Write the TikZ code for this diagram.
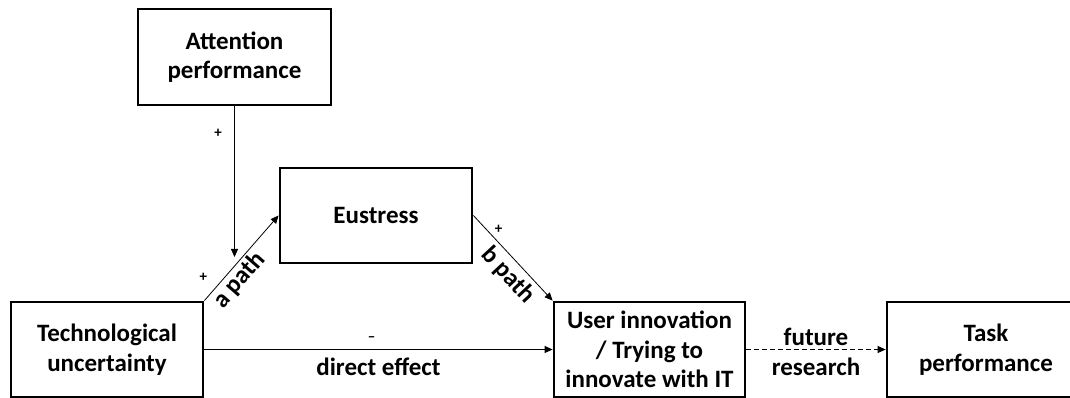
\documentclass[tikz,border=0pt]{standalone}
\usepackage{fontspec}
\setmainfont{Carlito}
\usetikzlibrary{arrows.meta}
\begin{document}
\begin{tikzpicture}[x=1pt,y=1pt,
  box/.style={draw, line width=2.8pt, rectangle, align=center, inner sep=0pt,
    minimum height=95pt, font=\fontsize{25}{29.5}\selectfont\bfseries},
  link/.style={line width=0.8pt, -{Triangle[length=8pt,width=7pt]}},
  lab/.style={font=\fontsize{25}{30}\selectfont\bfseries, inner sep=0pt, align=center},
  sign/.style={font=\fontsize{15}{16}\selectfont\bfseries, inner sep=0pt}]
\useasboundingbox (0,0) rectangle (1070,398);
\clip (0,0) rectangle (1070,398);
\node[box, minimum width=193pt, minimum height=96pt] (att) at (234.5,341) {Attention\\performance};
\node[box, minimum width=192pt] (eus) at (376,182.5) {Eustress};
\node[box, minimum width=192pt] (tech) at (107,48.5) {Technological\\uncertainty};
\node[box, minimum width=191pt] (user) at (649.5,48.5) {User innovation\\/ Trying to\\innovate with IT};
\node[box, minimum width=198pt] (task) at (986,48.5) {Task\\performance};
\coordinate (mod) at (234.5,141);
\draw[link] (att.south) -- node[pos=0.18, xshift=-16.5pt, sign]{+} (mod);
\draw[link] (tech.north east) -- node[pos=0, xshift=-1pt, yshift=23pt, sign]{+}
  node[pos=0.34, sloped, below=2pt, lab]{a path} (eus.west);
\draw[link] (eus.east) -- node[pos=0.24, xshift=6.3pt, yshift=6.5pt, sign]{+}
  node[pos=0.58, sloped, below=4pt, lab]{b path} (user.north west);
\draw[link] (tech.east) -- node[pos=0.48, yshift=10pt, sign]{\textendash}
  node[pos=0.5, below=8pt, lab]{direct effect} (user.west);
\draw[link, dash pattern=on 4.5pt off 3.5pt] (user.east) -- node[lab, yshift=-2pt]{future\\research} (task.west);
\end{tikzpicture}
\end{document}
